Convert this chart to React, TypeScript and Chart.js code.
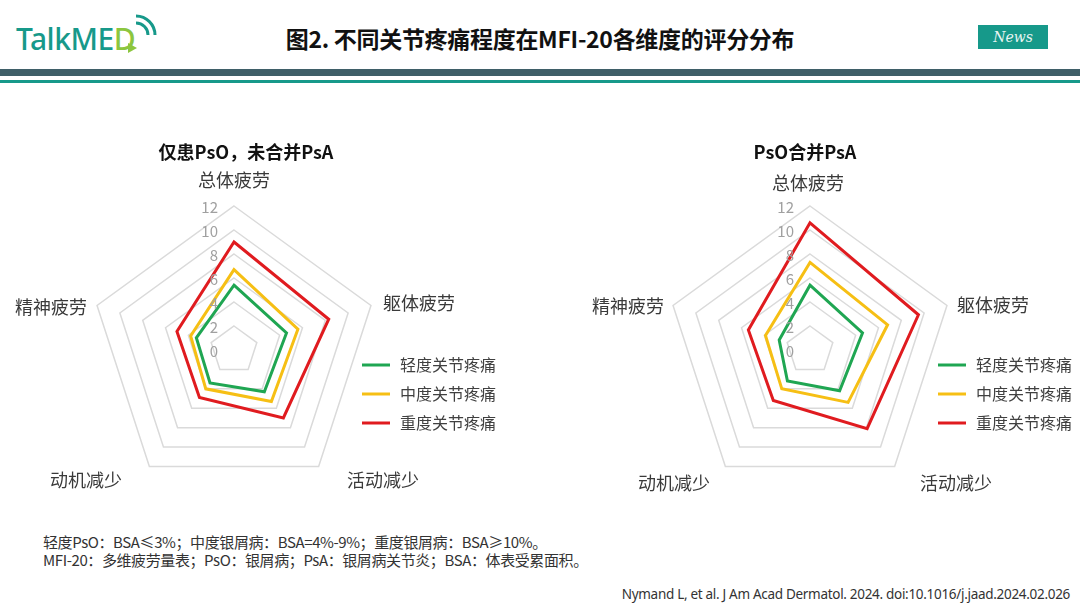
import React, { useEffect, useRef } from "react";
import { Chart, registerables } from "chart.js";

Chart.register(...registerables);

// ---------- data ----------
const dimensions = ["总体疲劳", "躯体疲劳", "活动减少", "动机减少", "精神疲劳"];
const seriesNames = ["轻度关节疼痛", "中度关节疼痛", "重度关节疼痛"];
const tickValues = [0, 2, 4, 6, 8, 10, 12];

const psoOnlyMild = [5.4, 4.6, 4.3, 3.4, 3.3];
const psoOnlyModerate = [6.7, 5.6, 5.3, 4.0, 3.8];
const psoOnlySevere = [9.0, 8.3, 7.0, 4.9, 5.0];

const psaMild = [5.4, 4.6, 4.2, 3.2, 2.7];
const psaModerate = [7.3, 6.8, 5.4, 4.0, 3.9];
const psaSevere = [10.6, 9.5, 8.1, 5.2, 5.4];

const leftTitle = "仅患PsO，未合并PsA";
const rightTitle = "PsO合并PsA";

const footnote1 = "轻度PsO：BSA≤3%；中度银屑病：BSA=4%-9%；重度银屑病：BSA≥10%。";
const footnote2 = "MFI-20：多维疲劳量表；PsO：银屑病；PsA：银屑病关节炎；BSA：体表受累面积。";
const citation = "Nymand L, et al. J Am Acad Dermatol. 2024. doi:10.1016/j.jaad.2024.02.026";
const pageTitle = "图2. 不同关节疼痛程度在MFI-20各维度的评分分布";

// ---------- styles ----------
const seriesColors = ["#1fa652", "#f6bf14", "#e01b1f"];
const CJK = '"Noto Sans CJK SC", "Noto Sans", sans-serif';

type Layout = {
  cx: number;
  cy: number;
  radius: number;
  title: [number, number];
  labels: [number, number, CanvasTextAlign][];
  legendY: number[];
};

const leftLayout: Layout = {
  cx: 234,
  cy: 230,
  radius: 144,
  title: [12, -198],
  labels: [
    [0, -170, "center"],
    [149, -47, "left"],
    [113, 130, "left"],
    [-112, 130, "right"],
    [-147, -43, "right"],
  ],
  legendY: [15, 44, 73],
};

const rightLayout: Layout = {
  cx: 270,
  cy: 230,
  radius: 144,
  title: [-5, -198],
  labels: [
    [-2, -167, "center"],
    [147, -45, "left"],
    [110, 133, "left"],
    [-100, 133, "right"],
    [-146, -44, "right"],
  ],
  legendY: [15, 44, 73],
};

function RadarPanel(props: {
  left: number;
  top: number;
  width: number;
  height: number;
  title: string;
  series: number[][];
  layout: Layout;
}) {
  const { left, top, width, height, title, series, layout } = props;
  const ref = useRef<HTMLCanvasElement>(null);

  useEffect(() => {
    if (!ref.current) return;
    const overlay = {
      id: "overlay",
      afterDraw(chart: any) {
        const ctx: CanvasRenderingContext2D = chart.ctx;
        const s = chart.scales.r;
        const cx = s.xCenter;
        const cy = s.yCenter;
        ctx.save();
        ctx.textBaseline = "middle";
        // title
        ctx.font = `bold 18px ${CJK}`;
        ctx.fillStyle = "#111111";
        ctx.textAlign = "center";
        ctx.fillText(title, cx + layout.title[0], cy + layout.title[1]);
        // tick labels
        ctx.font = `15px ${CJK}`;
        ctx.fillStyle = "#a0a0a0";
        ctx.textAlign = "right";
        tickValues.forEach((v) => {
          ctx.fillText(String(v), cx - 16, cy - s.getDistanceFromCenterForValue(v) + 1);
        });
        // point labels
        ctx.font = `18px ${CJK}`;
        ctx.fillStyle = "#3a3a3a";
        (chart.data.labels as string[]).forEach((lab, i) => {
          const [dx, dy, al] = layout.labels[i];
          ctx.textAlign = al;
          ctx.fillText(lab, cx + dx, cy + dy);
        });
        // legend
        ctx.font = `16px ${CJK}`;
        ctx.textAlign = "left";
        chart.data.datasets.forEach((ds: any, i: number) => {
          const y = cy + layout.legendY[i];
          ctx.strokeStyle = ds.borderColor;
          ctx.lineWidth = 3;
          ctx.beginPath();
          ctx.moveTo(cx + 128, y);
          ctx.lineTo(cx + 156, y);
          ctx.stroke();
          ctx.fillStyle = "#404040";
          ctx.fillText(ds.label, cx + 166, y);
        });
        ctx.restore();
      },
    };

    const chart = new Chart(ref.current, {
      type: "radar",
      data: {
        labels: dimensions,
        datasets: series.map((vals, i) => ({
          label: seriesNames[i],
          data: vals,
          borderColor: seriesColors[i],
          backgroundColor: "transparent",
          borderWidth: 3,
          pointRadius: 0,
          pointHoverRadius: 0,
          fill: false,
          tension: 0,
        })),
      },
      options: {
        animation: false,
        responsive: true,
        maintainAspectRatio: false,
        events: [],
        plugins: {
          legend: { display: false },
          title: { display: false },
          tooltip: { enabled: false },
        },
        scales: {
          r: {
            min: 0,
            max: 12,
            ticks: { display: false, stepSize: 2 },
            grid: { color: "#dadada", lineWidth: 1.5 },
            angleLines: { display: false },
            pointLabels: { display: false },
            afterFit: (sc: any) => {
              sc.xCenter = layout.cx;
              sc.yCenter = layout.cy;
              sc.drawingArea = layout.radius;
            },
          } as any,
        },
      },
      plugins: [overlay],
    });
    return () => chart.destroy();
  }, []);

  return (
    <div style={{ position: "absolute", left, top, width, height }}>
      <canvas ref={ref} />
    </div>
  );
}

function Logo() {
  return (
    <div style={{ position: "absolute", left: 16, top: 14, width: 150, height: 50 }}>
      <span
        style={{
          position: "absolute",
          left: 0,
          top: 6,
          fontFamily: '"Noto Sans", sans-serif',
          fontSize: 30,
          lineHeight: "38px",
          letterSpacing: -0.5,
          color: "#17998a",
          fontWeight: 500,
        }}
      >
        TalkME<span style={{ color: "#8cc63f" }}>D</span>
      </span>
      <svg
        width="150"
        height="50"
        style={{ position: "absolute", left: 0, top: 0 }}
        viewBox="0 0 150 50"
      >
        <path d="M 120 9 A 12 12 0 0 1 132 21" stroke="#17998a" strokeWidth="3" fill="none" />
        <path d="M 120 2 A 19 19 0 0 1 139 21" stroke="#17998a" strokeWidth="3" fill="none" />
        <path d="M 112 29 L 121 34 L 112 39 Z" fill="#8cc63f" />
      </svg>
    </div>
  );
}

export default function App() {
  return (
    <div
      style={{
        position: "fixed",
        left: 0,
        top: 0,
        width: 1080,
        height: 608,
        background: "#ffffff",
        overflow: "hidden",
        fontFamily: CJK,
      }}
    >
      <Logo />
      <div
        style={{
          position: "absolute",
          left: 0,
          width: 1080,
          top: 22,
          textAlign: "center",
          fontSize: 23,
          lineHeight: "32px",
          fontWeight: 700,
          color: "#111",
          letterSpacing: -0.3,
        }}
      >
        {pageTitle}
      </div>
      <div
        style={{
          position: "absolute",
          left: 978,
          top: 25,
          width: 70,
          height: 24,
          background: "#16998a",
          color: "#e8f5f2",
          fontFamily: '"DejaVu Serif", serif',
          fontStyle: "italic",
          fontSize: 14,
          lineHeight: "24px",
          textAlign: "center",
        }}
      >
        News
      </div>
      <div style={{ position: "absolute", left: 0, top: 69, width: 1080, height: 7, background: "#3f5f68" }} />
      <div style={{ position: "absolute", left: 0, top: 80, width: 1080, height: 3, background: "#17998a" }} />

      <RadarPanel
        left={0}
        top={120}
        width={540}
        height={410}
        title={leftTitle}
        series={[psoOnlyMild, psoOnlyModerate, psoOnlySevere]}
        layout={leftLayout}
      />
      <RadarPanel
        left={540}
        top={120}
        width={540}
        height={410}
        title={rightTitle}
        series={[psaMild, psaModerate, psaSevere]}
        layout={rightLayout}
      />

      <div
        style={{
          position: "absolute",
          left: 43,
          top: 533,
          fontSize: 15,
          lineHeight: "18px",
          color: "#333",
          whiteSpace: "nowrap",
          letterSpacing: -0.4,
        }}
      >
        <div>{footnote1}</div>
        <div>{footnote2}</div>
      </div>
      <div
        style={{
          position: "absolute",
          right: 10,
          top: 585,
          fontSize: 13.5,
          lineHeight: "18px",
          color: "#333",
          whiteSpace: "nowrap",
          fontFamily: '"Noto Sans", sans-serif',
          letterSpacing: -0.3,
        }}
      >
        {citation}
      </div>
    </div>
  );
}
